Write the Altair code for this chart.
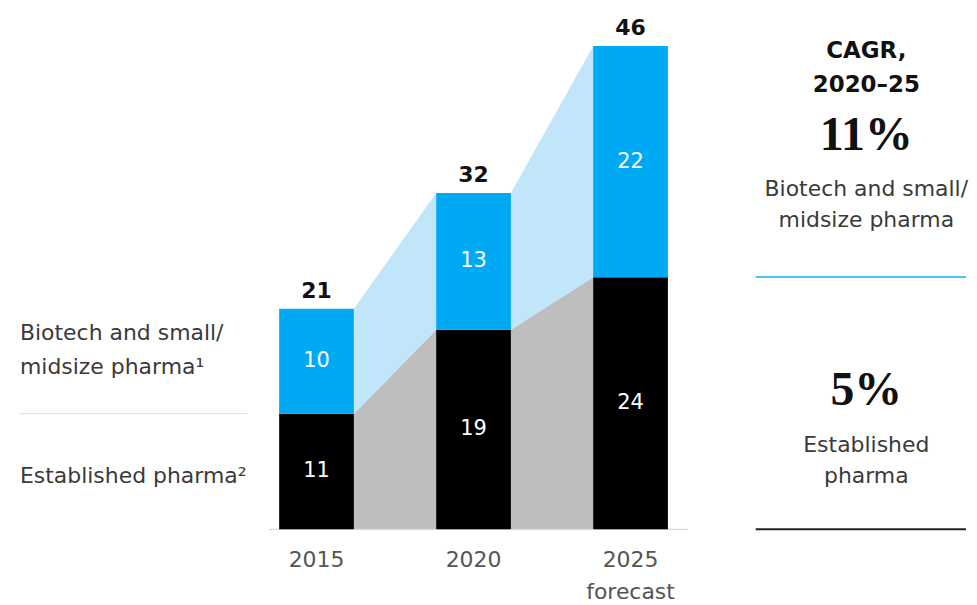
import altair as alt
import pandas as pd

# ---- data ----
years = [2015, 2020, 2025]
year_labels = ["2015", "2020", "2025"]
year_notes = ["", "", "forecast"]
established = [11, 19, 24]
biotech = [10, 13, 22]
totals = [21, 32, 46]
cagr_title = ["CAGR,", "2020–25"]
cagr_biotech = "11%"
cagr_established = "5%"
series_biotech = ["Biotech and small/", "midsize pharma¹"]
series_established = "Established pharma²"
right_biotech = ["Biotech and small/", "midsize pharma"]
right_established = ["Established", "pharma"]

# ---- styles ----
HW = 1.19  # half bar width in years
W, H = 961, 589
SANS = "DejaVu Sans"
SERIF = "Liberation Serif"
BLUE = "#00A9F4"
LIGHTBLUE = "#C1E6FA"
GRAY = "#BEBEBE"
TXT = "#3a3a3a"
FS = 22

xs = alt.Scale(domain=[2005.175, 2035.683], nice=False, zero=False)
ys = alt.Scale(domain=[-6.357, 49.526], nice=False, zero=False)

# bars (stacked segments)
rows = []
for yr, e, b, t in zip(years, established, biotech, totals):
    rows.append({"year": yr, "lo": 0, "hi": e, "val": e, "seg": "est"})
    rows.append({"year": yr, "lo": e, "hi": t, "val": b, "seg": "bio"})
bars_df = pd.DataFrame(rows)

# connecting areas
area_rows = []
for i in range(len(years) - 1):
    area_rows.append({"seg": i, "x": years[i] + HW, "zero": 0, "est": established[i], "tot": totals[i]})
    area_rows.append({"seg": i, "x": years[i + 1] - HW, "zero": 0, "est": established[i + 1], "tot": totals[i + 1]})
area_df = pd.DataFrame(area_rows)

tot_df = pd.DataFrame({"year": years, "total": totals, "label": year_labels, "note": year_notes})


def X(f):
    return alt.X(f, type="quantitative", scale=xs, axis=None)


def Y(f):
    return alt.Y(f, type="quantitative", scale=ys, axis=None, stack=None)


area_est = alt.Chart(area_df).mark_area(color=GRAY, opacity=1).encode(
    x=X("x"), y=Y("est"), y2="zero:Q", detail="seg:N"
)
area_bio = alt.Chart(area_df).mark_area(color=LIGHTBLUE, opacity=1).encode(
    x=X("x"), y=Y("tot"), y2="est:Q", detail="seg:N"
)

baseline = alt.Chart(pd.DataFrame({"a": [0]})).mark_rule(color="#D0D0D0", strokeWidth=1).encode(
    x=alt.value(262), x2=alt.value(682), y=Y("a")
)

rects = alt.Chart(bars_df).transform_calculate(
    x1=f"datum.year - {HW}", x2=f"datum.year + {HW}"
).mark_rect().encode(
    x=X("x1"), x2="x2:Q", y=Y("lo"), y2="hi:Q",
    color=alt.Color("seg:N", scale=alt.Scale(domain=["est", "bio"], range=["#000000", BLUE]), legend=None),
)

inner = alt.Chart(bars_df).transform_calculate(
    mid="(datum.lo + datum.hi) / 2"
).mark_text(font=SANS, fontSize=21, color="white", baseline="middle").encode(
    x=X("year"), y=Y("mid"), text="val:Q"
)

tot_text = alt.Chart(tot_df).mark_text(
    font=SANS, fontSize=22, fontWeight="bold", color="#111111", baseline="alphabetic", dy=-11
).encode(x=X("year"), y=Y("total"), text="total:Q")

year_text = alt.Chart(tot_df).mark_text(
    font=SANS, fontSize=FS, color="#555555", baseline="middle"
).encode(x=X("year"), y=alt.value(553), text="label:N")

note_text = alt.Chart(tot_df).mark_text(
    font=SANS, fontSize=FS, color="#555555", baseline="middle"
).encode(x=X("year"), y=alt.value(585), text="note:N")


def label(txt, x, y, size=FS, weight="normal", color=TXT, font=SANS, align="left"):
    return alt.Chart(pd.DataFrame({"t": [txt]})).mark_text(
        font=font, fontSize=size, fontWeight=weight, color=color, align=align, baseline="middle"
    ).encode(x=alt.value(x), y=alt.value(y), text="t:N")


def hline(x1, x2, y, color, width=1.5):
    return alt.Chart(pd.DataFrame({"a": [0]})).mark_rule(color=color, strokeWidth=width).encode(
        x=alt.value(x1), x2=alt.value(x2), y=alt.value(y)
    )


CX = 861
annotations = [
    label(series_biotech[0], 12, 325),
    label(series_biotech[1], 12, 359),
    hline(12, 240, 406, "#DDDDDD", 1),
    label(series_established, 12, 469),
    label(cagr_title[0], CX, 42, 23, "bold", "#111111", align="center"),
    label(cagr_title[1], CX, 76, 23, "bold", "#111111", align="center"),
    label(cagr_biotech, CX, 128, 48, "bold", "#111111", SERIF, "center"),
    label(right_biotech[0], CX, 181, align="center"),
    label(right_biotech[1], CX, 212, align="center"),
    hline(750, 961, 269, "#4FC3F7", 2),
    label(cagr_established, CX, 383, 48, "bold", "#111111", SERIF, "center"),
    label(right_established[0], CX, 437, align="center"),
    label(right_established[1], CX, 469, align="center"),
    hline(750, 961, 522, "#222222", 2),
]

chart = alt.layer(
    area_est, area_bio, baseline, rects, inner, tot_text, year_text, note_text, *annotations
).properties(
    width=W, height=H, padding=0, background="white"
).configure_view(stroke=None)

chart.save("out.html", embed_options={"renderer": "svg", "actions": False})
